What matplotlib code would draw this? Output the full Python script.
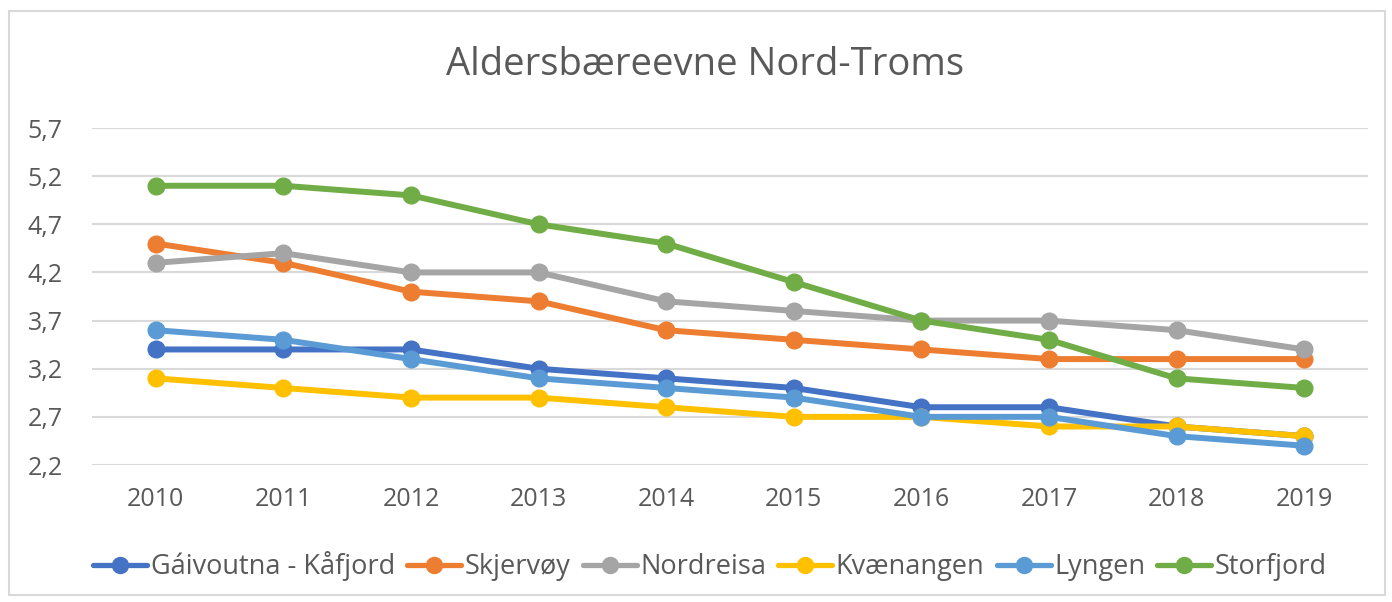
import matplotlib
matplotlib.use("Agg")
import matplotlib.pyplot as plt
from matplotlib.patches import Rectangle
from matplotlib.ticker import FixedLocator

years = ["2010", "2011", "2012", "2013", "2014", "2015", "2016", "2017", "2018", "2019"]
series_names = ["Gáivoutna - Kåfjord", "Skjervøy", "Nordreisa", "Kvænangen", "Lyngen", "Storfjord"]
gaivoutna = [3.4, 3.4, 3.4, 3.2, 3.1, 3.0, 2.8, 2.8, 2.6, 2.5]
skjervoy = [4.5, 4.3, 4.0, 3.9, 3.6, 3.5, 3.4, 3.3, 3.3, 3.3]
nordreisa = [4.3, 4.4, 4.2, 4.2, 3.9, 3.8, 3.7, 3.7, 3.6, 3.4]
kvaenangen = [3.1, 3.0, 2.9, 2.9, 2.8, 2.7, 2.7, 2.6, 2.6, 2.5]
lyngen = [3.6, 3.5, 3.3, 3.1, 3.0, 2.9, 2.7, 2.7, 2.5, 2.4]
storfjord = [5.1, 5.1, 5.0, 4.7, 4.5, 4.1, 3.7, 3.5, 3.1, 3.0]
yticks = [2.2, 2.7, 3.2, 3.7, 4.2, 4.7, 5.2, 5.7]
ytick_labels = ["2,2", "2,7", "3,2", "3,7", "4,2", "4,7", "5,2", "5,7"]

colors = ["#4472C4", "#ED7D31", "#A5A5A5", "#FFC000", "#5B9BD5", "#70AD47"]
all_series = [gaivoutna, skjervoy, nordreisa, kvaenangen, lyngen, storfjord]

plt.rcParams['font.family'] = ['Open Sans', 'DejaVu Sans']
text_color = "#595959"

fig = plt.figure(figsize=(13.92, 6.02), dpi=100)
fig.patches.append(Rectangle((9/1392, 1 - 595/602), 1376/1392, 584/602, transform=fig.transFigure,
                             fill=False, edgecolor="#D9D9D9", linewidth=1.5))

ax = fig.add_axes([92/1392, 1 - 465/602, 1276/1392, 337/602])
x = list(range(len(years)))
for name, vals, c in zip(series_names, all_series, colors):
    ax.plot(x, vals, color=c, linewidth=4.3, marker='o', markersize=12,
            label=name, solid_capstyle='round', zorder=3)

ax.set_xlim(-0.5, len(years) - 0.5)
ax.set_ylim(2.2, 5.7)
ax.yaxis.set_major_locator(FixedLocator(yticks))
ax.set_yticklabels(ytick_labels)
ax.set_xticks(x)
ax.set_xticklabels(years)
ax.grid(axis='y', color="#D9D9D9", linewidth=1.5, zorder=0)
for s in ax.spines.values():
    s.set_visible(False)
ax.tick_params(axis='both', length=0, labelsize=18, labelcolor=text_color)
ax.tick_params(axis='x', pad=16)
ax.tick_params(axis='y', pad=21)

fig.text(705/1392, 1 - 65/602, "Aldersbæreevne Nord-Troms", ha='center', va='center',
         fontsize=27.5, color=text_color)

leg = fig.legend(loc='center', bbox_to_anchor=(710/1392, 1 - 566/602), ncol=6, frameon=False,
                 fontsize=19.5, handlelength=2.0, columnspacing=0.45, handletextpad=0.12,
                 labelcolor=text_color)
for h in leg.legend_handles:
    h.set_linewidth(3.8)
    h.set_markersize(11.5)

fig.savefig("out.png", dpi=100)
